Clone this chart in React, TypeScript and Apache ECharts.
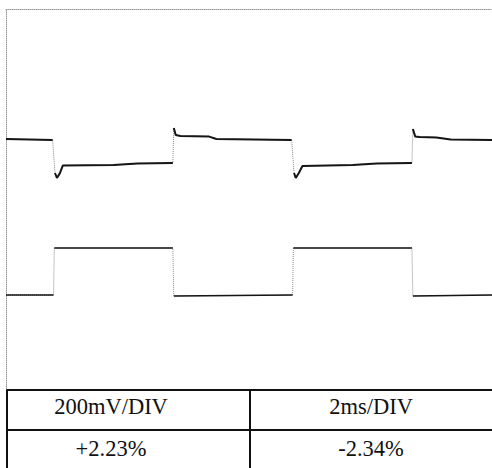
import React, { useEffect, useRef } from "react";
import * as echarts from "echarts";

// time (ms), voltage (mV)
const upperTime = [0, 1.95, 2.05, 2.13, 2.25, 2.38, 4.5, 5.5, 6.98, 7.02, 7.1, 7.3, 8.5, 8.8, 11.95, 12.05, 12.12, 12.25, 12.4, 14.5, 15.5, 16.98, 17.02, 17.12, 17.3, 18.0, 18.6, 20.33];
const upperVolt = [1250, 1245, 1080, 1055, 1078, 1118, 1120, 1128, 1130, 1305, 1270, 1265, 1262, 1250, 1245, 1080, 1055, 1080, 1115, 1120, 1128, 1130, 1300, 1262, 1260, 1258, 1248, 1245];
// index i => segment i -> i+1 is a fast (faint) transition
const upperEdges = [1, 8, 14, 21];

const lowerTime = [0, 1.99, 2.02, 6.98, 7.02, 11.99, 12.02, 16.98, 17.02, 20.33];
const lowerVolt = [470, 470, 705, 705, 465, 470, 705, 705, 465, 470];
const lowerEdges = [1, 3, 5, 7];

const tableRow1 = ["200mV/DIV", "2ms/DIV"];
const tableRow2 = ["+2.23%", "-2.34%"];

function pairs(t: number[], v: number[]) {
  return t.map((x, i) => [x, v[i]]);
}
function solidParts(t: number[], v: number[], edges: number[]) {
  const out: any[] = [];
  t.forEach((x, i) => {
    out.push([x, v[i]]);
    if (edges.includes(i)) out.push([x, "-"]);
  });
  return out;
}

export default function App() {
  const ref = useRef<HTMLDivElement>(null);
  useEffect(() => {
    document.body.style.margin = "0";
    const chart = echarts.init(ref.current!, null, { renderer: "svg" });
    const colX = [111, 371];
    const rowY = [406, 448];
    const texts: any[] = [];
    [tableRow1, tableRow2].forEach((row, r) =>
      row.forEach((s, c) =>
        texts.push({
          type: "text",
          x: colX[c],
          y: rowY[r],
          style: {
            text: s,
            fill: "#111",
            fontSize: 22.5,
            fontFamily: "Liberation Serif",
            align: "center",
            verticalAlign: "middle",
          },
        })
      )
    );
    const lineStyle = { stroke: "#111", lineWidth: 2 };
    const faint = { color: "#888", width: 1, type: "dotted" };
    const solid = { color: "#151515", width: 2 };
    chart.setOption({
      animation: false,
      backgroundColor: "#fff",
      grid: { left: 6, top: 9, right: 0, height: 380 },
      xAxis: {
        type: "value",
        position: "top",
        min: 0,
        max: 20.33,
        axisLine: { show: true, onZero: false, lineStyle: { color: "#999", type: "dotted", width: 1 } },
        axisTick: { show: false },
        axisLabel: { show: false },
        splitLine: { show: false },
      },
      yAxis: {
        type: "value",
        min: 0,
        max: 1900,
        axisLine: { show: true, onZero: false, lineStyle: { color: "#999", type: "dotted", width: 1 } },
        axisTick: { show: false },
        axisLabel: { show: false },
        splitLine: { show: false },
      },
      series: [
        { type: "line", data: pairs(upperTime, upperVolt), showSymbol: false, lineStyle: faint },
        { type: "line", data: pairs(lowerTime, lowerVolt), showSymbol: false, lineStyle: faint },
        { type: "line", data: solidParts(upperTime, upperVolt, upperEdges), showSymbol: false, connectNulls: false, lineStyle: solid },
        { type: "line", data: solidParts(lowerTime, lowerVolt, lowerEdges), showSymbol: false, connectNulls: false, lineStyle: { ...solid, width: 1.6 } },
      ],
      graphic: [
        { type: "line", shape: { x1: 6, y1: 390, x2: 492, y2: 390 }, style: lineStyle },
        { type: "line", shape: { x1: 6, y1: 430, x2: 492, y2: 430 }, style: lineStyle },
        { type: "line", shape: { x1: 7, y1: 389, x2: 7, y2: 468 }, style: lineStyle },
        { type: "line", shape: { x1: 250, y1: 389, x2: 250, y2: 468 }, style: lineStyle },
        ...texts,
      ],
    });
    return () => chart.dispose();
  }, []);
  return <div ref={ref} style={{ width: 492, height: 468 }} />;
}
